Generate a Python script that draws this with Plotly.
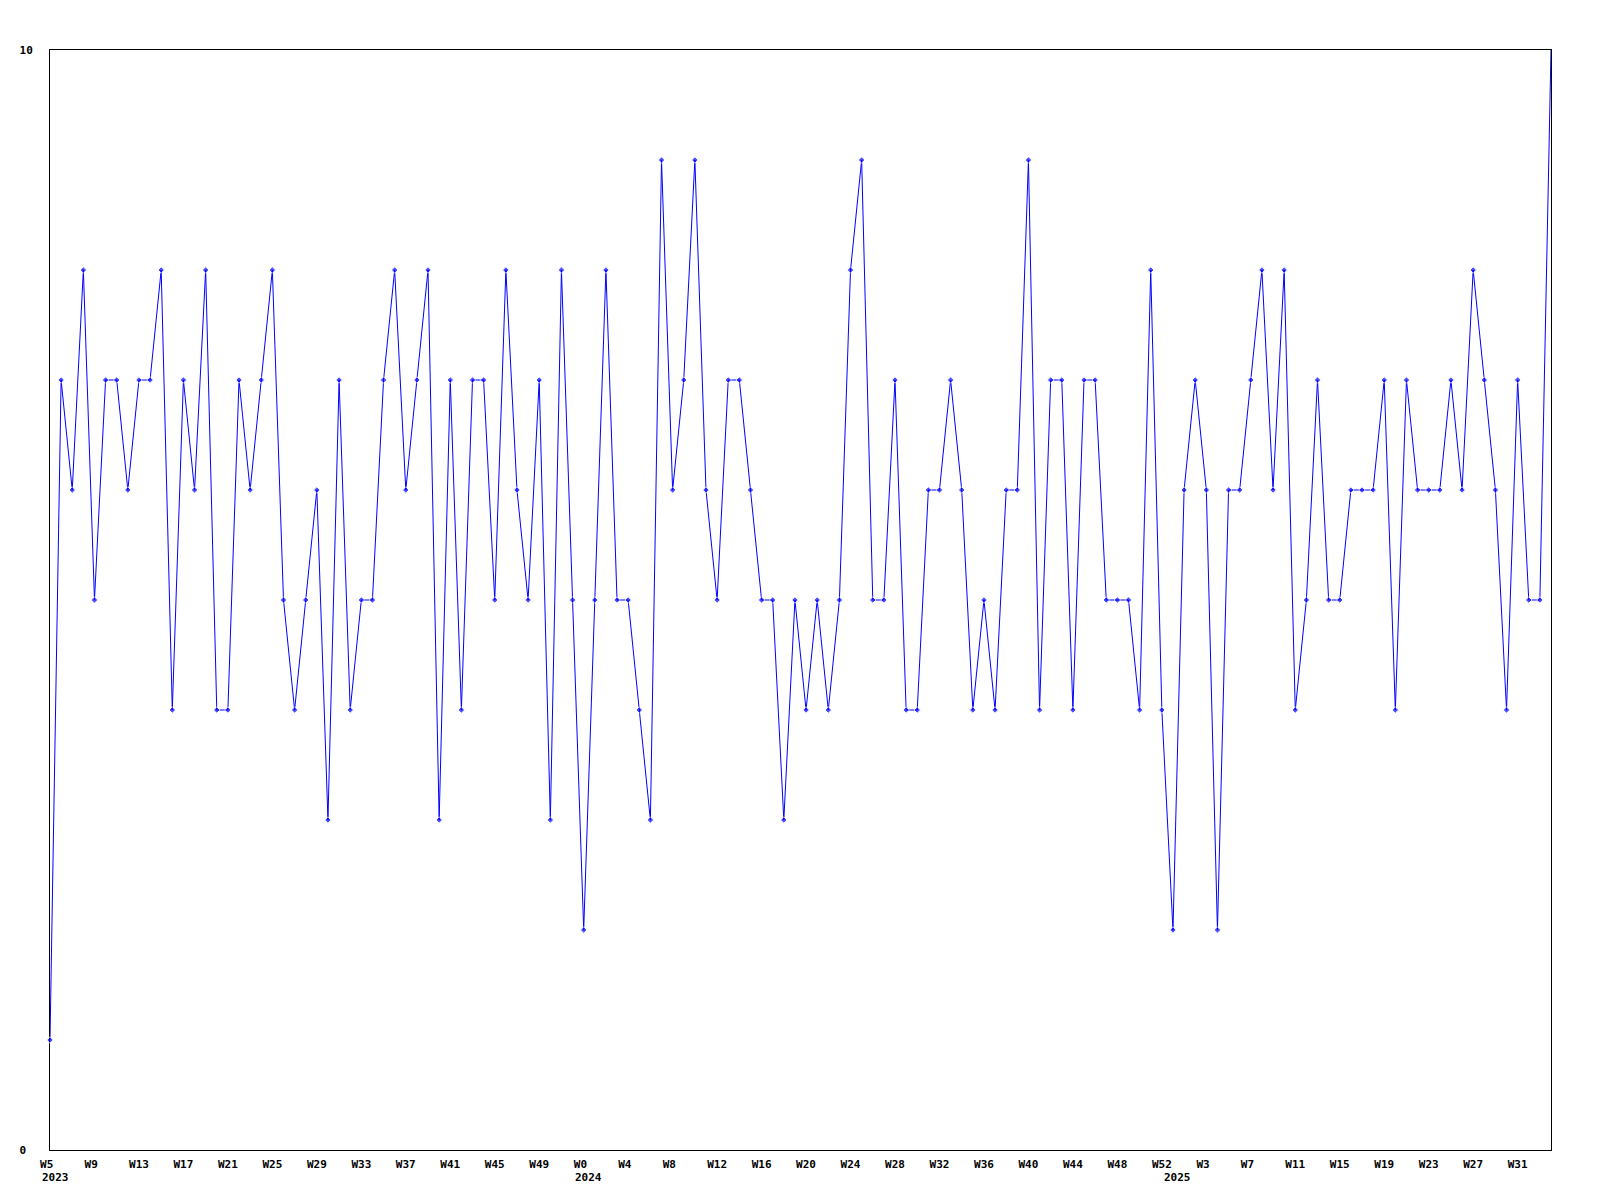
import plotly.graph_objects as go

# weekly values, 2023 W5 .. 2025 W34 (one point per week)
values = [
    1, 7, 6, 8, 5, 7, 7, 6, 7, 7, 8, 4, 7, 6, 8, 4, 4, 7, 6, 7, 8, 5, 4, 5, 6,
    3, 7, 4, 5, 5, 7, 8, 6, 7, 8, 3, 7, 4, 7, 7, 5, 8, 6, 5, 7, 3, 8, 5,
    2, 5, 8, 5, 5, 4, 3, 9, 6, 7, 9, 6, 5, 7, 7, 6, 5, 5, 3, 5, 4, 5, 4, 5,
    8, 9, 5, 5, 7, 4, 4, 6, 6, 7, 6, 4, 5, 4, 6, 6, 9, 4, 7, 7, 4, 7, 7, 5, 5, 5,
    4, 8, 4, 2, 6, 7, 6, 2, 6, 6, 7, 8, 6, 8, 4, 5, 7, 5, 5, 6, 6, 6, 7, 4,
    7, 6, 6, 6, 7, 6, 8, 7, 6, 4, 7, 5, 5, 10,
]

# x-axis tick labels (every 4th week)
tick_positions = list(range(0, 136, 4))
tick_labels = [
    "W5", "W9", "W13", "W17", "W21", "W25", "W29", "W33", "W37", "W41", "W45", "W49",
    "W0", "W4", "W8", "W12", "W16", "W20", "W24", "W28", "W32", "W36", "W40", "W44", "W48", "W52",
    "W3", "W7", "W11", "W15", "W19", "W23", "W27", "W31",
]

# year labels at the first week of each year
year_positions = [0, 48, 101]
year_labels = ["2023", "2024", "2025"]

y_tick_vals = [0, 10]
y_tick_text = ["0", "10"]

FONT = "DejaVu Sans Mono"
BLUE = "#0000ff"

x = list(range(len(values)))
# the last marker sits on the frame corner and is not drawn in the reference
marker_sizes = [5] * (len(values) - 1) + [0]

fig = go.Figure()
fig.add_trace(go.Scatter(
    x=x, y=values, mode="lines+markers",
    line=dict(color=BLUE, width=1),
    marker=dict(symbol="diamond", size=marker_sizes, color=BLUE),
    cliponaxis=False,
    showlegend=False,
))

def pad(t):
    return t + "\u00a0" * max(0, 3 - len(t))

fig.update_xaxes(
    range=[0, len(values) - 1],
    tickmode="array",
    tickvals=tick_positions,
    ticktext=[pad(t) for t in tick_labels],
    tickangle=0,
    tickfont=dict(family=FONT, size=11, color="black", weight="bold"),
    showgrid=False, zeroline=False,
    showline=True, linecolor="black", linewidth=1, mirror=True,
    ticks="", ticklabelstandoff=4,
    layer="below traces",
)
fig.update_yaxes(
    range=[0, 10],
    tickmode="array",
    tickvals=y_tick_vals,
    ticktext=[t + "\u00a0" * (2 - len(t)) for t in y_tick_text],
    tickfont=dict(family=FONT, size=11, color="black", weight="bold"),
    showgrid=False, zeroline=False,
    showline=True, linecolor="black", linewidth=1, mirror=True,
    ticks="", ticklabelstandoff=14,
    layer="below traces",
)

for xp, yl in zip(year_positions, year_labels):
    fig.add_annotation(
        x=xp, y=0, xref="x", yref="paper",
        text=yl, showarrow=False,
        xanchor="left", yanchor="middle",
        xshift=-10.5, yshift=-27.5,
        font=dict(family=FONT, size=11, color="black", weight="bold"),
    )

fig.update_layout(
    width=1584, height=1184,
    margin=dict(l=42, r=41, t=42, b=42, pad=0),
    plot_bgcolor="white", paper_bgcolor="white",
)

fig.write_html("out.html")
